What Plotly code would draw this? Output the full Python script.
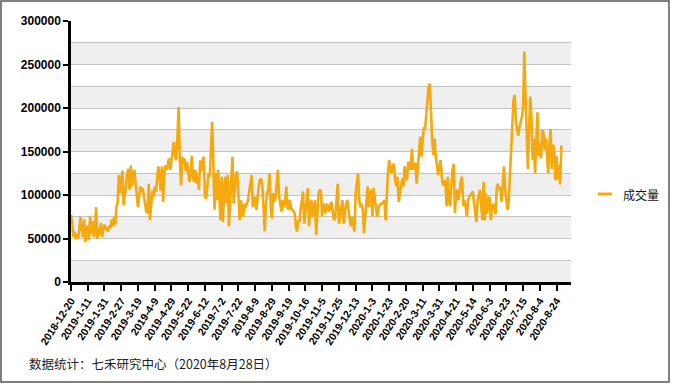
import plotly.graph_objects as go

tick_labels = ["2018-12-20", "2019-1-11", "2019-1-31", "2019-2-27", "2019-3-19", "2019-4-9",
               "2019-4-29", "2019-5-22", "2019-6-12", "2019-7-2", "2019-7-22", "2019-8-9",
               "2019-8-29", "2019-9-19", "2019-10-16", "2019-11-5", "2019-11-25", "2019-12-13",
               "2020-1-3", "2020-1-23", "2020-2-20", "2020-3-11", "2020-3-31", "2020-4-21",
               "2020-5-14", "2020-6-3", "2020-6-23", "2020-7-15", "2020-8-4", "2020-8-24"]
days_per_tick = 14

volume = [
    77000, 68000, 52000, 58000, 49000, 55000, 50000, 62000, 75000, 60000, 52000, 72000, 46000, 58000,
    65000, 48000, 76000, 55000, 70000, 52000, 60000, 86000, 50000, 62000, 55000, 68000, 52000, 60000,
    66000, 60000, 63000, 58000, 65000, 62000, 72000, 64000, 75000, 66000, 86000, 92000, 123000, 102000,
    115000, 128000, 88000, 105000, 112000, 125000, 130000, 106000, 134000, 110000, 124000, 129000, 118000, 100000,
    86000, 102000, 110000, 104000, 108000, 98000, 90000, 81000, 79000, 113000, 71000, 94000, 105000, 98000,
    110000, 104000, 117000, 133000, 121000, 105000, 133000, 92000, 125000, 134000, 129000, 136000, 142000, 129000,
    140000, 152000, 161000, 146000, 140000, 167000, 201000, 140000, 111000, 144000, 136000, 142000, 127000, 138000,
    129000, 115000, 125000, 145000, 121000, 115000, 129000, 113000, 123000, 106000, 140000, 127000, 140000, 144000,
    98000, 96000, 110000, 125000, 121000, 155000, 184000, 140000, 83000, 125000, 94000, 129000, 94000, 71000,
    121000, 69000, 102000, 121000, 90000, 123000, 64000, 94000, 110000, 144000, 90000, 106000, 125000, 127000,
    102000, 71000, 94000, 81000, 75000, 90000, 85000, 90000, 94000, 104000, 113000, 123000, 86000, 94000,
    98000, 83000, 98000, 110000, 117000, 119000, 110000, 83000, 58000, 90000, 102000, 106000, 125000, 86000,
    73000, 102000, 92000, 98000, 113000, 129000, 98000, 86000, 81000, 94000, 86000, 92000, 110000, 86000,
    83000, 94000, 85000, 83000, 81000, 79000, 64000, 58000, 71000, 69000, 83000, 94000, 104000, 67000,
    83000, 94000, 108000, 64000, 86000, 94000, 75000, 86000, 94000, 54000, 75000, 102000, 106000, 104000,
    75000, 90000, 86000, 79000, 90000, 86000, 81000, 90000, 92000, 79000, 71000, 75000, 90000, 113000,
    67000, 75000, 81000, 94000, 67000, 83000, 90000, 94000, 79000, 73000, 64000, 75000, 67000, 58000,
    102000, 117000, 125000, 94000, 86000, 90000, 83000, 56000, 75000, 94000, 110000, 86000, 102000, 106000,
    75000, 108000, 98000, 90000, 75000, 86000, 88000, 90000, 90000, 92000, 94000, 71000, 102000, 125000,
    140000, 134000, 125000, 133000, 136000, 117000, 110000, 121000, 92000, 102000, 113000, 119000, 110000, 133000,
    123000, 117000, 138000, 133000, 129000, 153000, 129000, 136000, 136000, 113000, 129000, 148000, 167000, 144000,
    159000, 178000, 175000, 192000, 205000, 224000, 228000, 192000, 163000, 146000, 165000, 144000, 136000, 123000,
    133000, 140000, 121000, 111000, 113000, 117000, 87000, 121000, 94000, 87000, 110000, 129000, 136000, 79000,
    102000, 106000, 94000, 108000, 117000, 121000, 87000, 94000, 87000, 75000, 94000, 98000, 100000, 102000,
    104000, 90000, 75000, 69000, 94000, 102000, 106000, 87000, 71000, 115000, 71000, 102000, 78000, 95000,
    98000, 71000, 86000, 90000, 82000, 78000, 109000, 113000, 106000, 109000, 92000, 121000, 133000, 106000,
    90000, 83000, 94000, 125000, 160000, 190000, 210000, 215000, 185000, 175000, 168000, 178000, 183000, 190000,
    200000, 265000, 215000, 160000, 130000, 175000, 213000, 190000, 140000, 165000, 125000, 160000, 195000, 145000,
    160000, 142000, 175000, 172000, 152000, 165000, 148000, 125000, 160000, 176000, 130000, 158000, 152000, 117000,
    145000, 118000, 135000, 112000, 157000,
]

series_name = "成交量"
footer = "数据统计：七禾研究中心（2020年8月28日）"

x_idx = list(range(len(volume)))
tick_vals = [i * days_per_tick for i in range(len(tick_labels))]

W, H = 673, 385
L, R, T, B = 71, 571, 21, 282
LINE_COLOR = "#F5A90E"

fig = go.Figure()
fig.add_trace(go.Scatter(x=x_idx, y=volume, mode="lines", name=series_name,
                         line=dict(color=LINE_COLOR, width=2.6), showlegend=False))

def px(xp):
    return (xp - L) / (R - L)

def py(yp):
    return (B - yp) / (B - T)

shapes = []
for lo in range(0, 300000, 50000):
    shapes.append(dict(type="rect", xref="paper", yref="y", x0=0, x1=1, y0=lo, y1=lo + 25000,
                       fillcolor="#EFEFEF", line=dict(width=0), layer="below"))

# outer frame
shapes.append(dict(type="rect", xref="paper", yref="paper", x0=px(1), x1=px(669), y0=py(382), y1=py(1),
                   line=dict(color="#555555", width=1.5), fillcolor="rgba(0,0,0,0)", layer="above"))
# legend key
shapes.append(dict(type="line", xref="paper", yref="paper", x0=px(598), x1=px(612), y0=py(194), y1=py(194),
                   line=dict(color=LINE_COLOR, width=3)))

fig.update_layout(
    width=W, height=H,
    margin=dict(l=L, r=W - R, t=T, b=H - B, pad=0),
    paper_bgcolor="white", plot_bgcolor="white",
    font=dict(family="Liberation Sans, Arial, Noto Sans CJK SC", color="#000000", size=11),
    shapes=shapes,
    showlegend=False,
    annotations=[
        dict(text=footer, xref="paper", yref="paper", x=px(27), y=py(363),
             xanchor="left", yanchor="middle", showarrow=False,
             font=dict(family="Noto Sans CJK SC", size=12.5, color="#222222")),
        dict(text=series_name, xref="paper", yref="paper", x=px(621), y=py(194),
             xanchor="left", yanchor="middle", showarrow=False,
             font=dict(family="Noto Sans CJK SC", size=12, color="#111111")),
    ],
)

fig.update_xaxes(range=[0, (R - L) / 1.196], tickmode="array", tickvals=tick_vals, ticktext=tick_labels,
                 tickangle=-57, ticks="outside", ticklen=6, tickwidth=2, tickcolor="black",
                 showline=True, linecolor="black", linewidth=2.5, showgrid=False, zeroline=False,
                 tickfont=dict(size=10.5, weight="bold"))
fig.update_yaxes(range=[0, 300000], tickmode="linear", tick0=0, dtick=50000, ticks="outside",
                 ticklen=5, tickwidth=2, tickcolor="black", showline=True, linecolor="black",
                 linewidth=2.5, showgrid=True, gridcolor="#C4C4C4", gridwidth=1, zeroline=False,
                 minor=dict(dtick=25000, showgrid=True, gridcolor="#C4C4C4", gridwidth=1, ticks=""),
                 tickformat="d", tickfont=dict(size=12, weight="bold"))

fig.write_html("out.html", config={"displayModeBar": False},
               post_script="document.body.style.margin='0';")
